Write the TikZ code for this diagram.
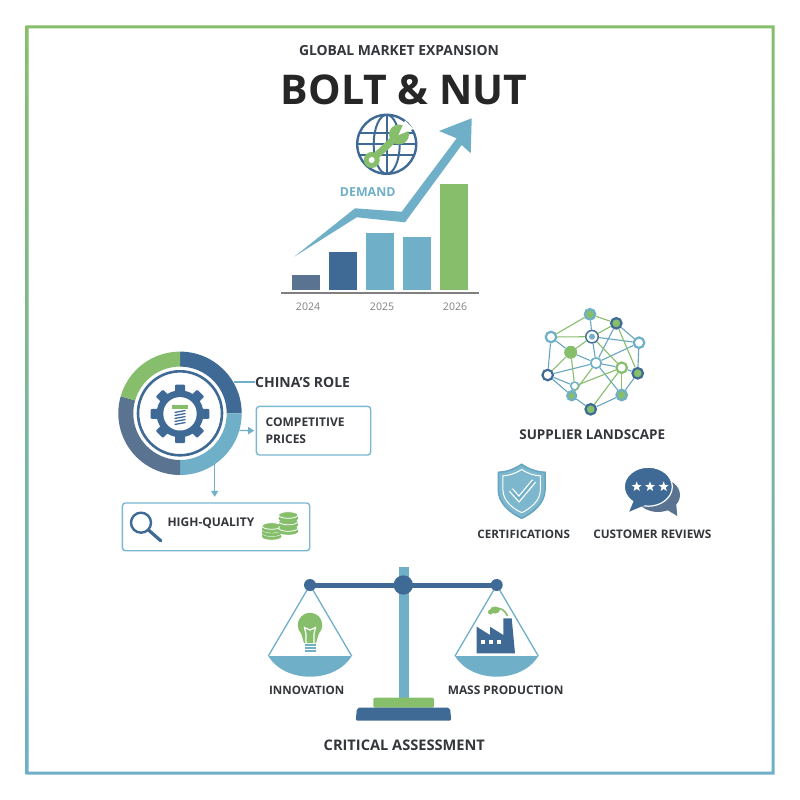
\documentclass[tikz,border=0pt]{standalone}
\usepackage{fontspec}
\setmainfont{Open Sans}
\usepackage{tikz}
\usetikzlibrary{arrows.meta,shapes.geometric}

\definecolor{BlueDark}{HTML}{3F6A96}
\definecolor{BlueLight}{HTML}{6FAFC8}
\definecolor{BlueEdge}{HTML}{7AB8D0}
\definecolor{Slate}{HTML}{5A7390}
\definecolor{LeafGreen}{HTML}{86BE6C}
\definecolor{Ink}{HTML}{33363B}

\tikzset{
    lab/.style={font=\bfseries\fontsize{11.6}{14}\selectfont, text=Ink, inner sep=0},
    year/.style={font=\fontsize{10.5}{12}\selectfont, text=gray, inner sep=0},
    infobox/.style={draw=BlueEdge, line width=1.4pt, rounded corners=3pt},
    link/.style={BlueLight, line width=1.3pt},
    tiplink/.style={BlueLight, line width=1.3pt, -{Triangle[length=6pt,width=7pt]}},
    netblue/.style={BlueLight!85!BlueDark, line width=1.1pt},
    netgreen/.style={LeafGreen, line width=1.1pt},
    netdot/.style={circle, inner sep=0, minimum size=10.5pt, line width=2.2pt},
}

\newcommand{\shieldoutline}{(521.7,464.3) .. controls (530,470) and (538,472) .. (545,472.3) -- (545,490) .. controls (545,503) and (533,513) .. (521.7,518.3) .. controls (510,513) and (498.3,503) .. (498.3,490) -- (498.3,472.3) .. controls (505,472) and (513,470) .. cycle}

\begin{document}
\begin{tikzpicture}[x=1pt,y=-1pt]

    \useasboundingbox (0,0) rectangle (800,800);
    \fill[white] (0,0) rectangle (800,800);

    % frame
    \path[even odd rule, top color=LeafGreen, bottom color=BlueLight] (25.5,25.5) rectangle (774.5,774.5) (28.5,28.5) rectangle (771.5,771.5);

    % title
    \node[lab, font=\bfseries\fontsize{13.9}{16}\selectfont] (subtitle) at (399,50.7) {GLOBAL MARKET EXPANSION};
    \node[lab, font=\bfseries\fontsize{41}{50}\selectfont, text=black!85] (title) at (404,90) {BOLT \& NUT};

    % bars
    \fill[Slate] (292,275) rectangle (320,290);
    \fill[BlueDark] (329,252) rectangle (357,290);
    \fill[BlueLight] (366,233) rectangle (394,290);
    \fill[BlueLight] (403,237) rectangle (431,290);
    \fill[LeafGreen] (440,184) rectangle (468,290);
    \draw[gray, line width=1.8pt] (281,293) -- (479,293);

    \node[year] (y2024) at (308,307) {2024};
    \node[year] (y2025) at (382,307) {2025};
    \node[year] (y2026) at (455,307) {2026};

    % rising arrow
    \fill[BlueLight] (294.3,256.7) -- (355,208.3) -- (401.7,211.7) -- (456.7,138.3) -- (439,131) -- (471.7,118.3) -- (470.7,153.3) -- (461.7,145) -- (405,222.3) -- (356.7,217.3) -- cycle;

    \node[lab, text=BlueLight, font=\bfseries\fontsize{12.4}{14}\selectfont] (demand) at (367.7,191.7) {DEMAND};

    % globe
    \begin{scope}
        \clip (386.7,144.3) circle (29.5);
        \draw[BlueDark, line width=2pt] (386.7,144.3) ellipse (13 and 29.5);
        \draw[BlueDark, line width=2pt] (386.7,114) -- (386.7,175);
        \draw[BlueDark, line width=2pt] (357,133.3) -- (417,133.3);
        \draw[BlueDark, line width=2pt] (357,144.3) -- (417,144.3);
        \draw[BlueDark, line width=2pt] (357,155.3) -- (417,155.3);
    \end{scope}
    \draw[BlueDark, line width=2.4pt] (386.7,144.3) circle (29.5);

    % wrench
    \draw[LeafGreen, line width=7pt] (371.7,160) -- (398.3,135);
    \fill[LeafGreen] (371.7,160) circle (8);
    \fill[white] (371.7,160) circle (3);
    \fill[LeafGreen] (399,134.5) circle (10);
    \fill[white] (398.5,135) -- (405,120.5) -- (413.5,129) -- cycle;

    % ring
    \foreach \from/\to/\col in {-90/0/BlueDark, 0/90/BlueLight, 90/196/Slate, 196/270/LeafGreen} {
        \fill[\col] ([shift={(\from:61.7)}]180,413.3) arc[start angle=\from, end angle=\to, radius=61.7] -- ([shift={(\to:46.7)}]180,413.3) arc[start angle=\to, end angle=\from, radius=46.7] -- cycle;
    }
    \draw[BlueDark, line width=2.6pt] (180,413.3) circle (42);

    % gear
    \foreach \a in {0,45,...,315} {
        \fill[BlueDark, rotate around={\a:(180,413.8)}, rounded corners=1pt] (175,384.5) rectangle (185,396);
    }
    \fill[BlueDark] (180,413.8) circle (23.5);
    \fill[white] (180,413.8) circle (16.7);

    % bolt
    \fill[LeafGreen] (172.3,405) rectangle (188.3,409);
    \foreach \y in {412.5,415.5,...,426} {
        \draw[BlueDark, line width=1.3pt] (174.5,\y) -- (185.5,\y-2);
    }

    % china's role
    \coordinate (ringtop) at (234,382);
    \coordinate (ringright) at (239.3,430.5);
    \coordinate (ringbottom) at (214.7,464);
    \node[lab, anchor=west, font=\bfseries\fontsize{14}{16}\selectfont] (role) at (255,382) {CHINA'S ROLE};
    \draw[link] (ringtop) -- (role);

    \node[infobox, lab, text width=95.7pt, inner xsep=9.3pt, minimum height=48.6pt, align=left, anchor=north west, font=\bfseries\fontsize{12}{17}\selectfont] (prices) at (255.7,405.7) {COMPETITIVE\\PRICES};
    \draw[tiplink, shorten >=1.5pt] (ringright) -- (prices.west);

    \node[infobox, minimum width=187.3pt, minimum height=47.7pt, anchor=north west] (quality) at (121.7,502.3) {};
    \node[lab, anchor=west, font=\bfseries\fontsize{12}{14}\selectfont] (highq) at (167.3,523) {HIGH-QUALITY};
    \draw[tiplink, shorten >=5.5pt] (ringbottom) -- (ringbottom |- quality.north);

    % magnifier
    \draw[BlueDark, line width=2.4pt] (141,522.7) circle (10);
    \draw[BlueDark, line width=3.2pt, line cap=round] (148.5,530) -- (160.7,540.7);

    % coins
    \foreach \cx/\ys in {271.7/{533,529.5,526}, 288.3/{528,521.5,515}} {
        \foreach \y in \ys {
            \fill[LeafGreen] (\cx-9.7,\y) rectangle (\cx+9.7,\y+3.5);
            \fill[LeafGreen] (\cx,\y+3.5) ellipse (9.7 and 3.3);
            \filldraw[fill=LeafGreen, draw=white, line width=.8pt] (\cx,\y) ellipse (9.7 and 3.3);
        }
    }

    % network
    \node[netdot, draw=BlueLight, fill=LeafGreen] (a) at (590,314.3) {};
    \node[netdot, draw=BlueDark, fill=LeafGreen] (b) at (616.3,323.3) {};
    \node[netdot, draw=BlueLight, fill=white] (c) at (639,342.7) {};
    \node[netdot, draw=BlueDark, fill=LeafGreen] (d) at (637.7,373.3) {};
    \node[netdot, draw=BlueLight, fill=LeafGreen] (e) at (621.7,395) {};
    \node[netdot, draw=BlueDark, fill=LeafGreen] (f) at (590.7,409.3) {};
    \node[netdot, draw=BlueLight, fill=LeafGreen, minimum size=9pt] (g) at (571.7,395.7) {};
    \node[netdot, draw=BlueDark, fill=white] (h) at (547.7,375) {};
    \node[netdot, draw=BlueLight, fill=white] (i) at (551,337) {};
    \node[netdot, draw=BlueDark, fill=white, minimum size=12.5pt, line width=1.4pt] (j) at (592,336.7) {};
    \node[circle, fill=BlueLight, inner sep=0, minimum size=6pt] (jcore) at (592,336.7) {};
    \node[circle, fill=LeafGreen, inner sep=0, minimum size=13pt] (k) at (570.7,352.3) {};
    \node[netdot, draw=BlueLight, fill=white, line width=1.6pt] (l) at (596,363) {};
    \node[netdot, draw=LeafGreen, fill=white] (m) at (621.7,367.7) {};
    \node[netdot, draw=BlueLight, fill=white, minimum size=8pt, line width=1.5pt] (n) at (574.7,386) {};

    \foreach \u/\v in {a/j, b/c, b/l, c/l, c/j, c/d, d/e, e/f, f/g, g/h, h/i, h/l, h/n, i/k, j/l, l/m, l/k, l/e, n/g, m/d} {
        \draw[netblue] (\u) -- (\v);
    }
    \foreach \u/\v in {a/i, a/b, i/j, j/k, j/b, b/d, k/h, k/n, n/m, f/m, l/g, j/m, m/e} {
        \draw[netgreen] (\u) -- (\v);
    }

    \node[lab, font=\bfseries\fontsize{13.5}{16}\selectfont] (supplier) at (592.3,435) {SUPPLIER LANDSCAPE};

    % shield
    \filldraw[fill=BlueLight!90!white, draw=BlueLight!85!BlueDark, line width=1.5pt] \shieldoutline;
    \draw[white, line width=1pt, scale around={0.8:(521.7,490)}] \shieldoutline;
    \draw[white, line width=5pt] (511,490) -- (519,499) -- (534,481);
    \draw[BlueLight, line width=2.4pt] (511,490) -- (519,499) -- (534,481);

    \node[lab, font=\bfseries\fontsize{11.6}{13}\selectfont] (certs) at (523.7,534.3) {CERTIFICATIONS};

    % speech bubbles
    \fill[Slate] (658,495) ellipse (22 and 17);
    \fill[Slate] (664,508) -- (677.3,516) -- (676,502) -- cycle;
    \filldraw[fill=BlueDark, draw=white, line width=1.2pt] (648.3,486.7) ellipse (24 and 19.5);
    \fill[BlueDark] (634,500) -- (629.3,511.7) -- (645,505) -- cycle;
    \foreach \x [count=\k] in {636.7,650,663.7} {
        \node[star, star points=5, star point ratio=2.4, fill=white, inner sep=0, minimum size=10.5pt] (star\k) at (\x,486.7) {};
    }

    \node[lab, font=\bfseries\fontsize{11.8}{13}\selectfont] (reviews) at (652.3,534.3) {CUSTOMER REVIEWS};

    % scale
    \draw[BlueLight, line width=1.3pt] (268.3,656) -- (310,585) -- (351.7,656);
    \draw[BlueLight, line width=1.3pt] (455,656) -- (496.7,585) -- (538.3,656);
    \fill[BlueLight] (399,567.3) rectangle (409,698.3);
    \draw[BlueDark, line width=5pt] (310,585) -- (496.7,585);
    \fill[BlueDark] (310,585) circle (6);
    \fill[BlueDark] (496.7,585) circle (6);
    \fill[BlueDark] (403.3,585) circle (9.7);

    \fill[BlueLight] (268.3,656) .. controls (285,683.6) and (335,683.6) .. (351.7,656) -- cycle;
    \fill[BlueLight] (455,656) .. controls (471.7,683.6) and (521.7,683.6) .. (538.3,656) -- cycle;

    \fill[LeafGreen, rounded corners=2pt] (373.3,707.7) -- (373.3,697.7) -- (434,697.7) -- (434,707.7) -- cycle;
    \fill[BlueDark, rounded corners=2pt] (355.7,720.7) -- (357,707.7) -- (450,707.7) -- (451.3,720.7) -- cycle;

    % bulb
    \fill[LeafGreen] (310,625) circle (12.3);
    \fill[LeafGreen] (301,633) -- (319,633) -- (316,643) -- (304,643) -- cycle;
    \draw[white, line width=1.2pt] (306,643) -- (306,634) -- (304.5,627.5) -- (310,630) -- (315.5,627.5) -- (314,634) -- (314,643);
    \foreach \y in {645,648,651} {
        \draw[BlueLight, line width=1.5pt] (304.5,\y) -- (315.5,\y);
    }

    % factory
    \fill[BlueDark] (476.7,653.3) -- (476.7,626.7) -- (490,635) -- (490,626.7) -- (503.3,635) -- (503.3,618.3) -- (511.7,618.3) -- (515,653.3) -- cycle;
    \foreach \x in {481,489,496.7} {
        \fill[white] (\x,640) rectangle (\x+4,644);
    }
    \fill[LeafGreen] (495,610) ellipse (5 and 3.5);
    \fill[LeafGreen] (490.5,612) circle (2.5);
    \draw[LeafGreen, line width=1.6pt] (497,608.5) .. controls (501,608) and (505,610) .. (507.5,616);

    % labels
    \node[lab] (innov) at (306.7,690) {INNOVATION};
    \node[lab, font=\bfseries\fontsize{11.9}{14}\selectfont] (mass) at (505.7,690) {MASS PRODUCTION};
    \node[lab, font=\bfseries\fontsize{14.6}{16}\selectfont] (critical) at (404.3,745.3) {CRITICAL ASSESSMENT};

\end{tikzpicture}
\end{document}
